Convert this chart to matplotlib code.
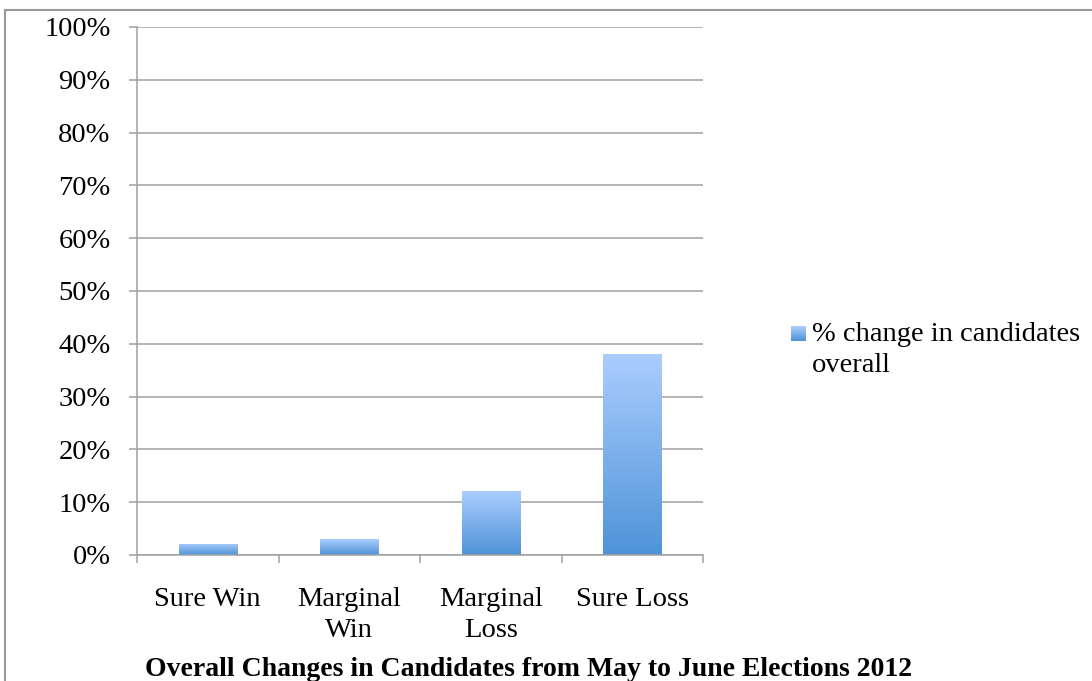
import matplotlib.pyplot as plt
import numpy as np
from matplotlib.colors import LinearSegmentedColormap
from matplotlib.lines import Line2D

# 데이터
categories = ['Sure Win', 'Marginal\nWin', 'Marginal\nLoss', 'Sure Loss']
values = [2.1, 3.0, 12.1, 38.0]
series_name = '% change in candidates\noverall'
title = 'Overall Changes in Candidates from May to June Elections 2012'

plt.rcParams['font.family'] = ['Liberation Serif', 'DejaVu Serif']
grid_c = '#a0a0a0'
fs = 20.5

fig = plt.figure(figsize=(10.92, 6.81), dpi=100)
ax = fig.add_axes([137 / 1092, 1 - 555 / 681, 566 / 1092, 528 / 681])

x = np.arange(len(categories))
bars = ax.bar(x, values, width=0.41, color='#7fb0ec', zorder=3, label=series_name)

# 막대마다 위는 밝고 아래는 진한 그라데이션
cmap = LinearSegmentedColormap.from_list('bar', ['#4e93d8', '#abcdfe'])
grad = np.linspace(0, 1, 256).reshape(-1, 1)
for b in bars:
    x0, y0, w, h = b.get_x(), b.get_y(), b.get_width(), b.get_height()
    im = ax.imshow(grad, cmap=cmap, origin='lower', aspect='auto',
                   extent=[x0, x0 + w, y0, y0 + h], zorder=4)
    im.set_clip_path(b)

ax.set_xlim(-0.5, len(categories) - 0.5)
ax.set_ylim(0, 100)
ax.set_yticks(range(0, 101, 10))
ax.set_yticklabels([f'{v}%' for v in range(0, 101, 10)], fontsize=fs)
ax.set_xticks(x)
ax.set_xticklabels(categories, fontsize=fs, linespacing=1.3)
ax.set_xticks(np.arange(-0.5, len(categories)), minor=True)
ax.tick_params(axis='x', which='major', length=0, pad=23)
ax.tick_params(axis='x', which='minor', length=6, width=1.1, color=grid_c)
ax.tick_params(axis='y', length=6, width=1.1, color=grid_c, pad=13)

ax.grid(axis='y', color=grid_c, linewidth=1.1, zorder=0)
for s in ['top', 'right']:
    ax.spines[s].set_visible(False)
for s in ['left', 'bottom']:
    ax.spines[s].set_color(grid_c)
    ax.spines[s].set_linewidth(1.1)
    ax.spines[s].set_zorder(5)

# 범례: 첫 줄 옆의 작은 그라데이션 사각형
sq = np.linspace(0, 1, 15).reshape(-1, 1) * np.ones((1, 15))
fig.figimage(sq, xo=791, yo=681 - 341, cmap=cmap, origin='lower', zorder=3)
fig.text(812 / 1092, 1 - 322 / 681, series_name, ha='left', va='top',
         fontsize=fs, linespacing=1.3)

fig.text(529 / 1092, 1 - 669 / 681, title, ha='center', va='center',
         fontsize=20, fontweight='bold')

# 차트 테두리
fig.add_artist(Line2D([5 / 1092, 1], [1 - 10 / 681] * 2, color='#999999', lw=1.5))
fig.add_artist(Line2D([5 / 1092] * 2, [0, 1 - 10 / 681], color='#999999', lw=1.5))

fig.savefig('out.png', dpi=100)
